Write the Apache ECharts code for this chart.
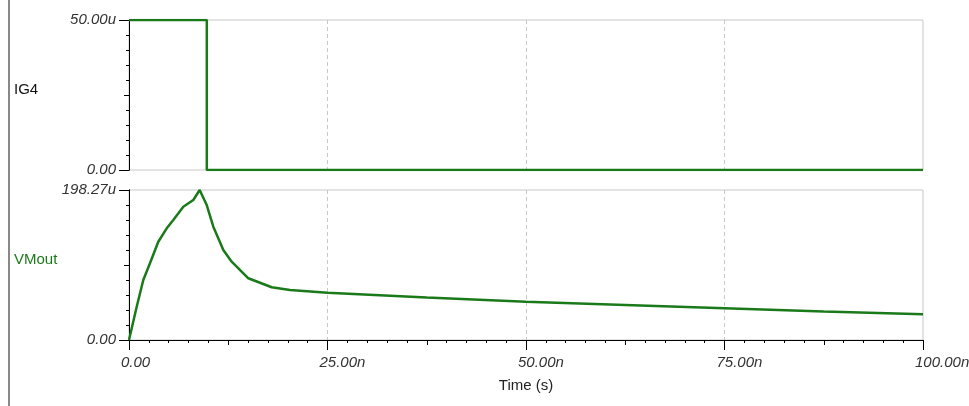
<!DOCTYPE html>
<html>
<head>
<meta charset="utf-8">
<script src="https://cdn.jsdelivr.net/npm/echarts@6/dist/echarts.min.js"></script>
<style>
  html, body { margin: 0; padding: 0; background: #fff; }
  #chart { width: 969px; height: 406px; }
</style>
</head>
<body>
<div id="chart"></div>
<script>
// time in ns, IG4 in uA, VMout in uV
const ig4Time = [0, 9.8, 9.8, 100];
const ig4Value = [50, 50, 0, 0];

const vmTime = [0, 0.97, 1.8, 2.64, 3.69, 4.75, 5.58, 6.84, 8.1, 8.9, 9.79, 10.62, 11.88, 12.93, 15.03, 17.97, 20.28, 25, 37.5, 50, 62.5, 75, 87.5, 100];
const vmValue = [0, 44.0, 79.3, 101.4, 129.9, 147.6, 158.6, 176.2, 185.1, 198.27, 178.4, 149.8, 119.0, 103.5, 81.6, 69.7, 66.1, 62.5, 56.2, 50.6, 46.3, 41.9, 37.7, 34.0];

const ig4Max = 50;
const vmMax = 198.27;
const timeMax = 100;

const green = '#1a7a1a';
const gray = '#c8c8c8';
const font = 'Liberation Sans';

const yFmt = (v) => (v === 0 ? '0.00' : v.toFixed(2) + 'u');
const xFmt = (v) => (v === 0 ? '0.00' : v.toFixed(2) + 'n');

const chart = echarts.init(document.getElementById('chart'));

const grids = [
  { left: 129, right: 46, top: 20, height: 150, show: true, borderColor: gray, borderWidth: 1, outerBoundsMode: 'none' },
  { left: 129, right: 46, top: 190, height: 150, show: true, borderColor: gray, borderWidth: 1, outerBoundsMode: 'none' },
];

const baseLine = { show: true, lineStyle: { color: '#000', width: 1 } };
const tickLabel = { fontFamily: font, fontStyle: 'italic', fontSize: 15, color: '#333' };

// minor tick axis + labelled axis for each y panel
const yPair = (gridIndex, max) => [
  {
    type: 'value', gridIndex, position: 'left', min: 0, max, interval: max / 2,
    axisLine: baseLine,
    axisTick: { show: true, length: 5, lineStyle: { color: '#000' } },
    minorTick: { show: true, splitNumber: 5, length: 3, lineStyle: { color: '#000' } },
    axisLabel: { show: false },
    splitLine: { show: false },
  },
  {
    type: 'value', gridIndex, position: 'left', min: 0, max, interval: max,
    axisLine: baseLine,
    axisTick: { show: true, length: 10, lineStyle: { color: '#000' } },
    axisLabel: Object.assign({ margin: 13, formatter: yFmt }, tickLabel),
    splitLine: { show: false },
  },
];

chart.setOption({
  animation: false,
  backgroundColor: '#fff',
  grid: grids,
  xAxis: [
    {
      type: 'value', gridIndex: 0, position: 'bottom', min: 0, max: timeMax, interval: 25,
      axisLine: { show: false }, axisTick: { show: false }, axisLabel: { show: false },
      splitLine: { show: true, showMinLine: false, showMaxLine: false, lineStyle: { color: gray, type: [4, 3] } },
    },
    {
      type: 'value', gridIndex: 1, position: 'bottom', min: 0, max: timeMax, interval: 12.5,
      axisLine: baseLine,
      axisTick: { show: true, length: 5, lineStyle: { color: '#000' } },
      minorTick: { show: true, splitNumber: 5, length: 3, lineStyle: { color: '#000' } },
      axisLabel: { show: false },
      splitLine: { show: false },
    },
    {
      type: 'value', gridIndex: 1, position: 'bottom', min: 0, max: timeMax, interval: 25,
      axisLine: baseLine,
      axisTick: { show: true, length: 10, lineStyle: { color: '#000' } },
      axisLabel: Object.assign({ margin: 15, align: 'left', padding: [0, 0, 0, -8], formatter: xFmt }, tickLabel),
      splitLine: { show: true, showMinLine: false, showMaxLine: false, lineStyle: { color: gray, type: [4, 3] } },
      name: 'Time (s)', nameLocation: 'middle', nameGap: 38,
      nameTextStyle: { fontFamily: font, fontSize: 15, color: '#222' },
    },
  ],
  yAxis: [...yPair(0, ig4Max), ...yPair(1, vmMax)],
  graphic: [
    { type: 'line', shape: { x1: 9, y1: 0, x2: 9, y2: 406 }, style: { stroke: '#888', lineWidth: 2 } },
    { type: 'text', left: 14, top: 82, style: { text: 'IG4', font: '15px "Liberation Sans"', fill: '#111' } },
    { type: 'text', left: 14, top: 252, style: { text: 'VMout', font: '15px "Liberation Sans"', fill: green } },
  ],
  series: [
    {
      name: 'IG4', type: 'line', xAxisIndex: 0, yAxisIndex: 1,
      data: ig4Time.map((t, i) => [t, ig4Value[i]]),
      showSymbol: false, lineStyle: { color: green, width: 2.5 }, itemStyle: { color: green },
    },
    {
      name: 'VMout', type: 'line', xAxisIndex: 2, yAxisIndex: 3,
      data: vmTime.map((t, i) => [t, vmValue[i]]),
      showSymbol: false, lineStyle: { color: green, width: 2.5 }, itemStyle: { color: green },
    },
  ],
});
</script>
</body>
</html>
